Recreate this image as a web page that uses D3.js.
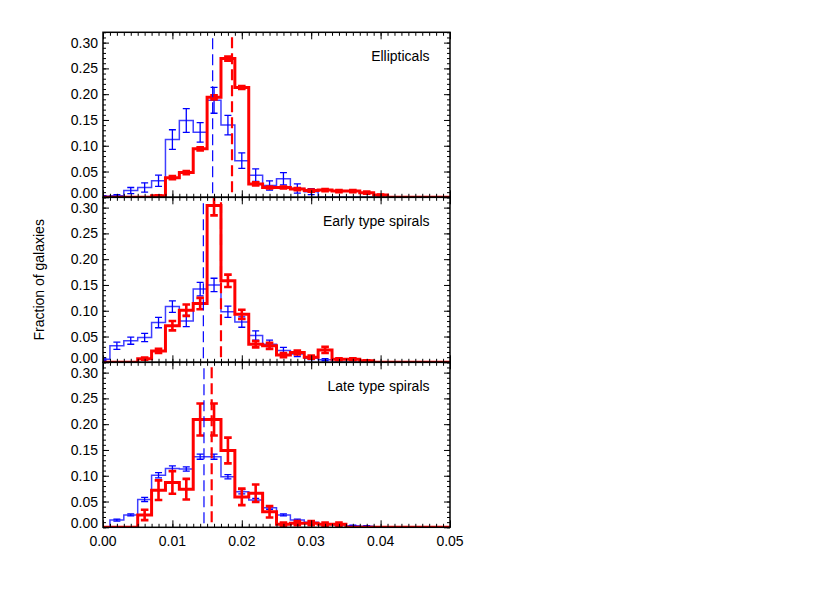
<!DOCTYPE html>
<html><head><meta charset="utf-8">
<script src="https://cdn.jsdelivr.net/npm/d3@7"></script>
<style>
body{margin:0;background:#fff;}
text{font-family:"Liberation Sans",Arial,Helvetica,sans-serif;fill:#000;}
</style></head>
<body><svg id="c" width="830" height="593"></svg>
<script>
// Bin centres (bin width 0.002)
const binCenters = [0.000,0.002,0.004,0.006,0.008,0.010,0.012,0.014,0.016,0.018,0.020,0.022,0.024,0.026,0.028,0.030,0.032,0.034,0.036,0.038,0.040,0.042,0.044,0.046,0.048,0.050];

const panelNames = ["Ellipticals","Early type spirals","Late type spirals"];

// Blue (thin) histograms and errors
const blueEll  = [0.002,0.003,0.013,0.019,0.032,0.112,0.149,0.126,0.188,0.140,0.071,0.043,0.023,0.036,0.017,0.011,0,0,0,0,0,0,0,0,0,0];
const blueEllErr=[0.001,0.002,0.006,0.009,0.011,0.019,0.023,0.019,0.025,0.019,0.015,0.012,0.009,0.012,0.009,0.006,0,0,0,0,0,0,0,0,0,0];
const blueEarly= [0.006,0.032,0.042,0.048,0.077,0.108,0.080,0.142,0.150,0.098,0.078,0.052,0.035,0.023,0.016,0.008,0.005,0,0,0,0,0,0,0,0,0];
const blueEarlyErr=[0.002,0.007,0.007,0.008,0.010,0.011,0.011,0.013,0.013,0.011,0.010,0.009,0.008,0.006,0.005,0.003,0.002,0,0,0,0,0,0,0,0,0];
const blueLate = [0,0.014,0.024,0.054,0.101,0.114,0.113,0.137,0.137,0.098,0.069,0.053,0.038,0.024,0.014,0.010,0.006,0.005,0.003,0.002,0,0,0,0,0,0];
const blueLateErr=[0,0.002,0.002,0.004,0.005,0.005,0.004,0.005,0.005,0.004,0.004,0.003,0.003,0.002,0.002,0.002,0.001,0.001,0.001,0.001,0,0,0,0,0,0];

// Red (thick) histograms and errors
const redEll   = [0,0,0,0,0.003,0.038,0.048,0.094,0.194,0.269,0.213,0.026,0.019,0.019,0.016,0.013,0.014,0.012,0.012,0.009,0.0045,0,0,0,0,0];
const redEllErr= [0,0,0,0,0.001,0.003,0.003,0.003,0.004,0.004,0.003,0.003,0.002,0.002,0.002,0.002,0.002,0.002,0.002,0.002,0.001,0,0,0,0,0];
const redEarly = [0,0,0,0.007,0.022,0.071,0.101,0.114,0.304,0.158,0.093,0.035,0.032,0.014,0.019,0.010,0.024,0.006,0.006,0.003,0,0,0,0,0,0];
const redEarlyErr=[0,0,0,0.002,0.004,0.009,0.011,0.011,0.019,0.012,0.009,0.006,0.006,0.004,0.004,0.003,0.006,0.002,0.002,0.001,0,0,0,0,0,0];
const redLate  = [0,0,0,0.024,0.072,0.087,0.074,0.209,0.209,0.149,0.059,0.066,0.030,0.006,0.008,0.008,0.006,0.006,0,0,0,0,0,0,0,0];
const redLateErr=[0,0,0,0.010,0.019,0.022,0.020,0.031,0.031,0.025,0.016,0.017,0.011,0.003,0.004,0.004,0.003,0.003,0,0,0,0,0,0,0,0];

// Medians (dashed lines)
const blueMedian = [0.0158,0.01446,0.01455];
const redMedian  = [0.01859,0.0170,0.01566];

const xTicks = [0.00,0.01,0.02,0.03,0.04,0.05];
const xTickLabels = ["0.00","0.01","0.02","0.03","0.04","0.05"];
const yTicks = [0.00,0.05,0.10,0.15,0.20,0.25,0.30];
const yTickLabels = ["0.00","0.05","0.10","0.15","0.20","0.25","0.30"];

const blueSeries=[blueEll,blueEarly,blueLate], blueErrs=[blueEllErr,blueEarlyErr,blueLateErr];
const redSeries=[redEll,redEarly,redLate], redErrs=[redEllErr,redEarlyErr,redLateErr];

const L=103,R=450,T=32.3,PH=165,BW=0.002;
const svg=d3.select("#c");
const x=d3.scaleLinear().domain([0,0.05]).range([L,R]);

const xMinor=d3.range(0,51).map(i=>i/1000);
const yMinor=d3.range(0,33).map(i=>i/100);

panelNames.forEach((name,p)=>{
  const top=T+p*PH, bot=top+PH;
  const y=d3.scaleLinear().domain([0,0.32]).range([bot,top]);
  const g=svg.append("g");
  const cid="clip"+p;
  g.append("clipPath").attr("id",cid).append("rect").attr("x",L).attr("y",top).attr("width",R-L).attr("height",PH);
  const pg=g.append("g").attr("clip-path",`url(#${cid})`);

  function hist(vals,color,w){
    const pts=[];
    binCenters.forEach((c,i)=>{pts.push([c-BW/2,vals[i]]);pts.push([c+BW/2,vals[i]]);});
    pg.append("path").attr("d",d3.line().x(d=>x(d[0])).y(d=>y(d[1]))(pts))
      .attr("fill","none").attr("stroke",color).attr("stroke-width",w).attr("stroke-linejoin","miter");
  }
  function errs(vals,e,color,w,cap){
    binCenters.forEach((c,i)=>{
      if(!(e[i]>0)) return;
      const cx=x(c), y1=y(vals[i]-e[i]), y2=y(vals[i]+e[i]);
      pg.append("line").attr("x1",cx).attr("x2",cx).attr("y1",y1).attr("y2",y2).attr("stroke",color).attr("stroke-width",w);
      [y1,y2].forEach(yy=>pg.append("line").attr("x1",cx-cap).attr("x2",cx+cap).attr("y1",yy).attr("y2",yy).attr("stroke",color).attr("stroke-width",w));
    });
  }
  hist(blueSeries[p],"#3f3fff",1.5);
  errs(blueSeries[p],blueErrs[p],"#0000ff",1.3,3.5);
  hist(redSeries[p],"#ff0000",3);
  errs(redSeries[p],redErrs[p],"#ff0000",2.6,3.8);
  pg.append("line").attr("x1",x(blueMedian[p])).attr("x2",x(blueMedian[p])).attr("y1",top+6).attr("y2",bot)
    .attr("stroke","#0000ff").attr("stroke-width",1.2).attr("stroke-dasharray","11,5");
  pg.append("line").attr("x1",x(redMedian[p])).attr("x2",x(redMedian[p])).attr("y1",top+5).attr("y2",bot)
    .attr("stroke","#ff0000").attr("stroke-width",2.2).attr("stroke-dasharray","11,5");

  // frame
  g.append("rect").attr("x",L).attr("y",top).attr("width",R-L).attr("height",PH)
    .attr("fill","none").attr("stroke","#000").attr("stroke-width",1.5);

  // axes ticks
  const axB=d3.axisBottom(x).tickValues(xMinor).tickSize(-3.5).tickFormat("");
  const axBM=d3.axisBottom(x).tickValues(xTicks).tickSize(-7).tickFormat("");
  const axT=d3.axisTop(x).tickValues(xMinor).tickSize(-3.5).tickFormat("");
  const axTM=d3.axisTop(x).tickValues(xTicks).tickSize(-7).tickFormat("");
  [[axB,bot],[axBM,bot],[axT,top],[axTM,top]].forEach(([a,yy])=>{
    const ag=g.append("g").attr("transform",`translate(0,${yy})`).call(a);
    ag.select(".domain").remove(); ag.selectAll("line").attr("stroke","#000").attr("stroke-width",1);
  });
  const axL=d3.axisLeft(y).tickValues(yMinor).tickSize(-3).tickFormat("");
  const axLM=d3.axisLeft(y).tickValues(yTicks).tickSize(-6).tickFormat((d,i)=>yTickLabels[i]).tickPadding(5);
  const axR=d3.axisRight(y).tickValues(yMinor).tickSize(-3).tickFormat("");
  const axRM=d3.axisRight(y).tickValues(yTicks).tickSize(-6).tickFormat("");
  [[axL,L],[axLM,L],[axR,R],[axRM,R]].forEach(([a,xx])=>{
    const ag=g.append("g").attr("transform",`translate(${xx},0)`).call(a);
    ag.select(".domain").remove(); ag.selectAll("line").attr("stroke","#000").attr("stroke-width",1);
    ag.selectAll("text").attr("font-size",14).attr("font-family","Liberation Sans, Arial, sans-serif").attr("fill","#000")
      .attr("dy",(d)=>d===0?"-0.0em":"0.32em").attr("x",-5);
  });
  // shift 0.00 label up like original
  g.selectAll("text").filter(d=>d===0).attr("transform","translate(0,-4.6)").attr("dy","0.32em");

  g.append("text").attr("x",429.5).attr("y",top+28.5).attr("text-anchor","end").attr("font-size",14).text(name);
});

// x tick labels
const bottom=T+3*PH;
svg.append("g").selectAll("text").data(xTicks).join("text")
  .attr("x",d=>x(d)).attr("y",bottom+19).attr("text-anchor","middle").attr("font-size",14)
  .text((d,i)=>xTickLabels[i]);

svg.append("text").attr("transform",`translate(44,${T+1.5*PH}) rotate(-90)`).attr("text-anchor","middle")
  .attr("font-size",14).text("Fraction of galaxies");
</script></body></html>
